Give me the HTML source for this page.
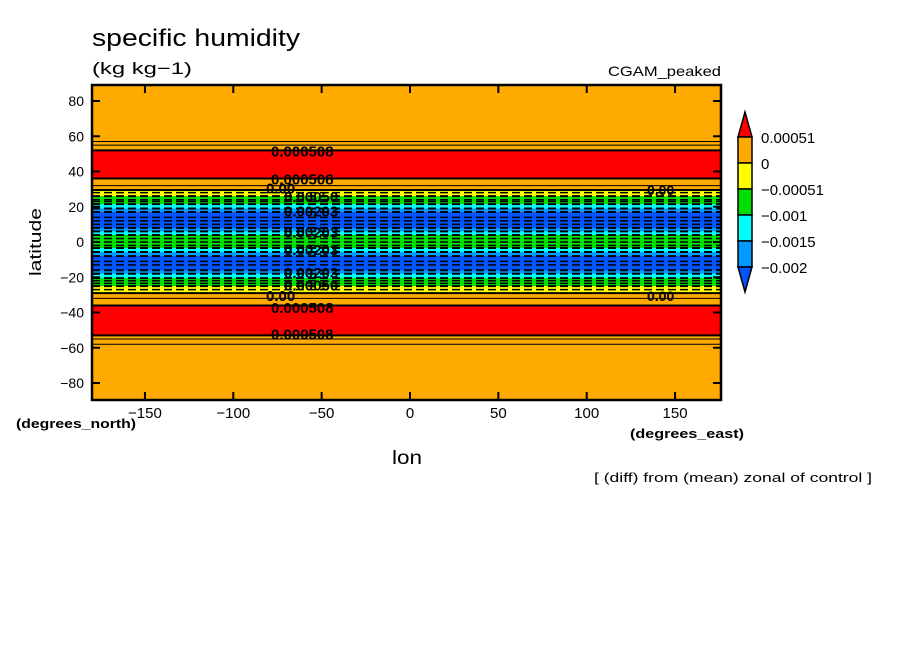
<!DOCTYPE html>
<html><head><meta charset="utf-8"><style>
body{margin:0;background:#fff;width:904px;height:654px;overflow:hidden}
svg text{font-family:"Liberation Sans",sans-serif}
</style></head><body>
<svg id="chart" width="904" height="654" viewBox="0 0 904 654" xmlns="http://www.w3.org/2000/svg">
<text x="92" y="46" font-size="24" textLength="208" lengthAdjust="spacingAndGlyphs">specific humidity</text>
<text x="92" y="74" font-size="17" textLength="100" lengthAdjust="spacingAndGlyphs">(kg kg−1)</text>
<text x="608" y="76" font-size="14" textLength="113" lengthAdjust="spacingAndGlyphs">CGAM_peaked</text>
<text x="41" y="242" font-size="17" text-anchor="middle" transform="rotate(-90 41 242)" textLength="68" lengthAdjust="spacingAndGlyphs">latitude</text>
<text x="392" y="464" font-size="19" textLength="30" lengthAdjust="spacingAndGlyphs">lon</text>
<text x="16" y="428" font-size="13" font-weight="bold" textLength="120" lengthAdjust="spacingAndGlyphs">(degrees_north)</text>
<text x="630" y="438" font-size="13" font-weight="bold" textLength="114" lengthAdjust="spacingAndGlyphs">(degrees_east)</text>
<text x="594" y="482" font-size="13" textLength="278" lengthAdjust="spacingAndGlyphs">[ (diff) from (mean) zonal of control ]</text>
<g id="plot"></g>
<g id="axes"></g>
<g id="cbar"></g>
</svg>
<script>
// band edges (latitude, top→bottom) and colour class of each band
const bandTops = [90, 52, 36, 29.5, 26, 21.5, 19, 17, 8, 6, 4, -3.4, -5.7, -8, -16, -18, -20.5, -25, -29, -36, -53];
const bandLevels = [1, 2, 1, 0, -1, -2, -3, -4, -3, -2, -1, -2, -3, -4, -3, -2, -1, 0, 1, 2, 1];
const levelColors = {"2":"#ff0000","1":"#ffaa00","0":"#ffff00","-1":"#00dd00","-2":"#00ffff","-3":"#0099ff","-4":"#0055ff"};
const extraContours = [57, 55, 32, -32, -55, -58];
const dashedInterior = [28, 24, 23, 14, 12, 10, 2, 0, -2, -11, -13, -22, -23.5, -27];
const latTicks = [80, 60, 40, 20, 0, -20, -40, -60, -80];
const lonTicks = [-150, -100, -50, 0, 50, 100, 150];
const cbarLabels = ["0.00051", "0", "−0.00051", "−0.001", "−0.0015", "−0.002"];
const cbarColors = ["#ffaa00", "#ffff00", "#00dd00", "#00ffff", "#0099ff"];
const contourLabels = [["0.000508", 52], ["0.000508", 36], ["0.00", 31], ["0.00050", 26], ["0.00203", 18], ["0.00203", 6], ["0.00203", -4], ["0.00203", -17], ["0.00050", -24], ["0.00", -30], ["0.000508", -37], ["0.000508", -52]];

const NS = "http://www.w3.org/2000/svg";
const X0 = 92, X1 = 721, Y0 = 85, Y1 = 400;
const x = lon => 410 + 1.767 * lon;
const y = lat => Math.max(Y0, Math.min(Y1, 242 - 1.7625 * lat));
function mk(tag, at, parent) { const e = document.createElementNS(NS, tag); for (const k in at) e.setAttribute(k, at[k]); parent.appendChild(e); return e; }
const plot = document.getElementById("plot"), axes = document.getElementById("axes"), cbar = document.getElementById("cbar");

bandTops.forEach((t, i) => {
  const b = i + 1 < bandTops.length ? bandTops[i + 1] : -90;
  const r = mk("rect", {x: X0, y: y(t), width: X1 - X0, height: y(b) - y(t) + 0.5, fill: levelColors[bandLevels[i]]}, plot);
  
  
});
bandTops.forEach((t, i) => {
  if (i === 0) return;
  const neg = (bandLevels[i] + bandLevels[i - 1]) / 2 < 0.5;
  const l = mk("line", {x1: X0, x2: X1, y1: y(t), y2: y(t), stroke: "#000", "stroke-width": 2, "stroke-dasharray": neg ? "8 4" : "none"}, plot);
  
  
});
extraContours.forEach(v => {
  const l = mk("line", {x1: X0, x2: X1, y1: y(v), y2: y(v), stroke: "#000", "stroke-width": 1}, plot);
  
  
});
dashedInterior.forEach(v => {
  const l = mk("line", {x1: X0, x2: X1, y1: y(v), y2: y(v), stroke: "#000", "stroke-width": 1.5, "stroke-dasharray": "8 4"}, plot);
  
  
});
contourLabels.forEach(([s, lat], i) => {
  const t = mk("text", {x: s === "0.00" ? 266 : (s.length === 8 ? 271 : 284), y: y(lat) + 6, "font-size": 15, "font-weight": "bold"}, plot);
  t.textContent = s;
  
  
});
[["0.00", 30], ["0.00", -30]].forEach(([s, lat]) => {
  const t = mk("text", {x: 647, y: y(lat) + 6, "font-size": 14, "font-weight": "bold"}, plot);
  t.textContent = s;
  
  
});
const fr = mk("rect", {x: X0, y: Y0, width: X1 - X0, height: Y1 - Y0, fill: "none", stroke: "#000", "stroke-width": 2.5}, axes);


latTicks.forEach(v => {
  mk("line", {x1: X0, x2: X0 + 8, y1: y(v), y2: y(v), stroke: "#000", "stroke-width": 2}, axes);
  mk("line", {x1: X1, x2: X1 - 8, y1: y(v), y2: y(v), stroke: "#000", "stroke-width": 2}, axes);
  const t = mk("text", {x: 84, y: y(v) + 5, "font-size": 14, "text-anchor": "end"}, axes);
  t.textContent = v < 0 ? "−" + (-v) : v;
  
  
});
lonTicks.forEach(v => {
  mk("line", {x1: x(v), x2: x(v), y1: Y1, y2: Y1 - 8, stroke: "#000", "stroke-width": 2}, axes);
  mk("line", {x1: x(v), x2: x(v), y1: Y0, y2: Y0 + 8, stroke: "#000", "stroke-width": 2}, axes);
  const t = mk("text", {x: x(v), y: 418, "font-size": 15, "text-anchor": "middle"}, axes);
  t.textContent = v < 0 ? "−" + (-v) : v;
  
  
});
// colorbar
const cx0 = 738, cx1 = 752, cy = 137, ch = 26;
const up = mk("polygon", {points: `${cx0},${cy} ${cx1},${cy} ${(cx0+cx1)/2},${cy-25}`, fill: "#ff0000", stroke: "#000", "stroke-width": 1.5}, cbar);


cbarColors.forEach((c, i) => {
  const r = mk("rect", {x: cx0, y: cy + i * ch, width: cx1 - cx0, height: ch, fill: c, stroke: "#000", "stroke-width": 1.5}, cbar);
  
  
});
const yb = cy + cbarColors.length * ch;
const dn = mk("polygon", {points: `${cx0},${yb} ${cx1},${yb} ${(cx0+cx1)/2},${yb+25}`, fill: "#0055ff", stroke: "#000", "stroke-width": 1.5}, cbar);


cbarLabels.forEach((s, i) => {
  const t = mk("text", {x: 761, y: cy + i * ch + 6, "font-size": 15}, cbar);
  t.textContent = s;
  
  
});
</script>
</body></html>
